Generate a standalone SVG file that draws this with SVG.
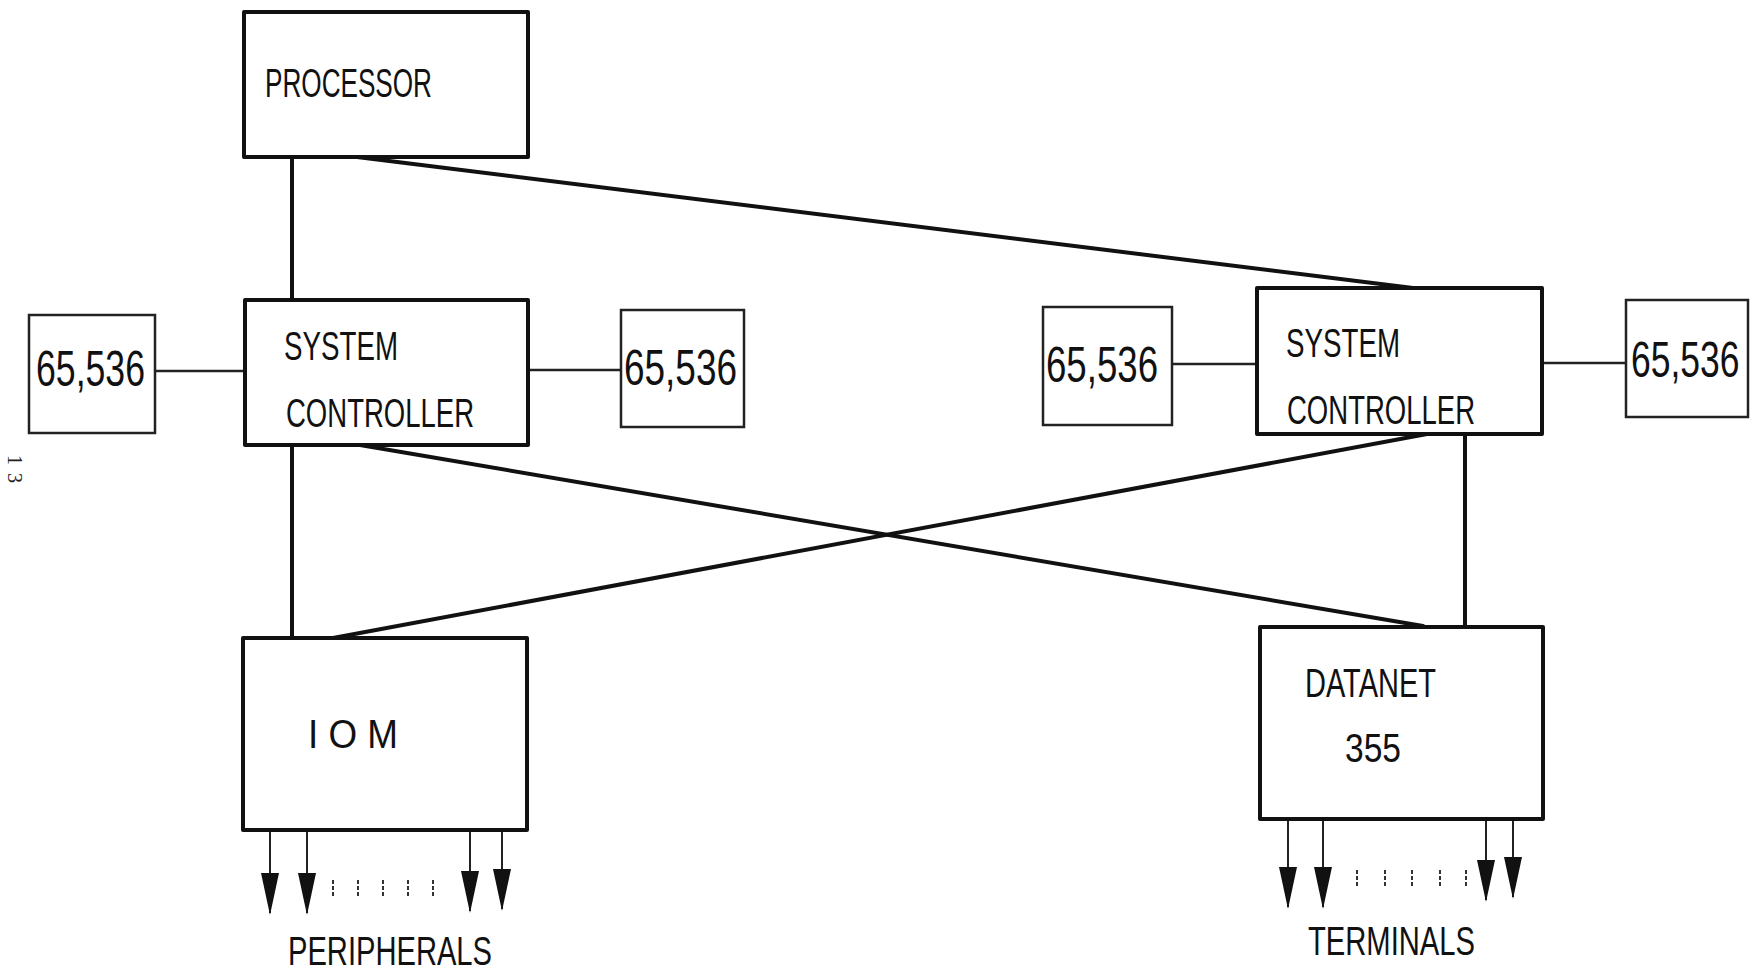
<svg xmlns="http://www.w3.org/2000/svg" width="1752" height="974" viewBox="0 0 1752 974">
<defs>
<style>
.box{fill:none;stroke:#111;stroke-width:4;stroke-linejoin:round}
.mem{fill:none;stroke:#222;stroke-width:2.5}
.lbl{font-family:"Liberation Sans",Arial,sans-serif;font-size:41px;fill:#111}
.num{font-family:"Liberation Sans",Arial,sans-serif;font-size:50px;fill:#111}
.conn{stroke:#111;stroke-width:4;fill:none;stroke-linecap:round}
.thin{stroke:#222;stroke-width:2.5;fill:none}
.shaft{stroke:#222;stroke-width:2;fill:none}
.tick{stroke:#333;stroke-width:2;stroke-dasharray:4 2;fill:none}
</style>
<marker id="ahd" markerUnits="userSpaceOnUse" markerWidth="42" markerHeight="18" viewBox="0 0 42 18" refX="40" refY="9" orient="auto">
<path d="M0,0 L42,9 L0,18 Z" fill="#111"/>
</marker>
</defs>
<rect width="1752" height="974" fill="#fff"/>

<g id="connectors">
<line class="conn" x1="292" y1="157" x2="292" y2="300"/>
<line class="conn" x1="357" y1="157" x2="1413" y2="288"/>
<line class="conn" x1="292" y1="445" x2="292" y2="638"/>
<line class="conn" x1="360" y1="445" x2="1423" y2="626"/>
<line class="conn" x1="1427" y1="434" x2="333" y2="638"/>
<line class="conn" x1="1465" y1="434" x2="1465" y2="626"/>
<line class="thin" x1="155" y1="371" x2="244" y2="371"/>
<line class="thin" x1="527" y1="370" x2="621" y2="370"/>
<line class="thin" x1="1172" y1="364" x2="1257" y2="364"/>
<line class="thin" x1="1543" y1="363" x2="1626" y2="363"/>
<line class="shaft" x1="270" y1="830" x2="270" y2="913" marker-end="url(#ahd)"/>
<line class="shaft" x1="307" y1="830" x2="307" y2="913" marker-end="url(#ahd)"/>
<line class="shaft" x1="470" y1="830" x2="470" y2="911" marker-end="url(#ahd)"/>
<line class="shaft" x1="502" y1="830" x2="502" y2="909" marker-end="url(#ahd)"/>
<line class="shaft" x1="1288" y1="819" x2="1288" y2="907" marker-end="url(#ahd)"/>
<line class="shaft" x1="1323" y1="819" x2="1323" y2="907" marker-end="url(#ahd)"/>
<line class="shaft" x1="1486" y1="819" x2="1486" y2="900" marker-end="url(#ahd)"/>
<line class="shaft" x1="1513" y1="819" x2="1513" y2="897" marker-end="url(#ahd)"/>
<g id="ticks">
<line class="tick" x1="333" y1="880" x2="333" y2="897"/>
<line class="tick" x1="358" y1="880" x2="358" y2="897"/>
<line class="tick" x1="383" y1="880" x2="383" y2="897"/>
<line class="tick" x1="408" y1="880" x2="408" y2="897"/>
<line class="tick" x1="433" y1="880" x2="433" y2="897"/>
<line class="tick" x1="1357" y1="870" x2="1357" y2="887"/>
<line class="tick" x1="1385" y1="870" x2="1385" y2="887"/>
<line class="tick" x1="1412" y1="870" x2="1412" y2="887"/>
<line class="tick" x1="1440" y1="870" x2="1440" y2="887"/>
<line class="tick" x1="1466" y1="870" x2="1466" y2="887"/>
</g>
</g>

<g id="processor">
<rect class="box" x="244" y="12" width="284" height="145"/>
<text class="lbl" x="265" y="97" textLength="167" lengthAdjust="spacingAndGlyphs">PROCESSOR</text>
</g>

<g id="sc-left">
<rect class="box" x="245" y="300" width="283" height="145"/>
<text class="lbl" x="284" y="360" font-size="44" textLength="114" lengthAdjust="spacingAndGlyphs">SYSTEM</text>
<text class="lbl" x="286" y="427" font-size="44" textLength="188" lengthAdjust="spacingAndGlyphs">CONTROLLER</text>
</g>

<g id="mem-1">
<rect class="mem" x="29" y="315" width="126" height="118"/>
<text class="num" x="36" y="386" textLength="109" lengthAdjust="spacingAndGlyphs">65,536</text>
</g>

<g id="mem-2">
<rect class="mem" x="621" y="310" width="123" height="117"/>
<text class="num" x="624" y="385" textLength="113" lengthAdjust="spacingAndGlyphs">65,536</text>
</g>

<g id="sc-right">
<rect class="box" x="1257" y="288" width="285" height="146"/>
<text class="lbl" x="1286" y="357" font-size="44" textLength="114" lengthAdjust="spacingAndGlyphs">SYSTEM</text>
<text class="lbl" x="1287" y="424" font-size="44" textLength="188" lengthAdjust="spacingAndGlyphs">CONTROLLER</text>
</g>

<g id="mem-3">
<rect class="mem" x="1043" y="307" width="129" height="118"/>
<text class="num" x="1046" y="382" textLength="112" lengthAdjust="spacingAndGlyphs">65,536</text>
</g>

<g id="mem-4">
<rect class="mem" x="1626" y="300" width="122" height="117"/>
<text class="num" transform="translate(1631,377) scale(0.71,1)" x="0" y="0">65,536</text>
</g>

<g id="iom">
<rect class="box" x="243" y="638" width="284" height="192"/>
<text class="lbl" x="308" y="748" textLength="90" lengthAdjust="spacingAndGlyphs">I O M</text>
</g>

<g id="datanet">
<rect class="box" x="1260" y="627" width="283" height="192"/>
<text class="lbl" x="1305" y="697" textLength="131" lengthAdjust="spacingAndGlyphs">DATANET</text>
<text class="lbl" x="1345" y="762" textLength="56" lengthAdjust="spacingAndGlyphs">355</text>
</g>

<g id="labels">
<text class="lbl" x="288" y="965" textLength="204" lengthAdjust="spacingAndGlyphs">PERIPHERALS</text>
<text class="lbl" x="1308" y="955" textLength="167" lengthAdjust="spacingAndGlyphs">TERMINALS</text>
<text font-family="Liberation Serif,serif" font-size="20" fill="#222" transform="translate(8,455) rotate(90)" textLength="28">13</text>
</g>
</svg>
